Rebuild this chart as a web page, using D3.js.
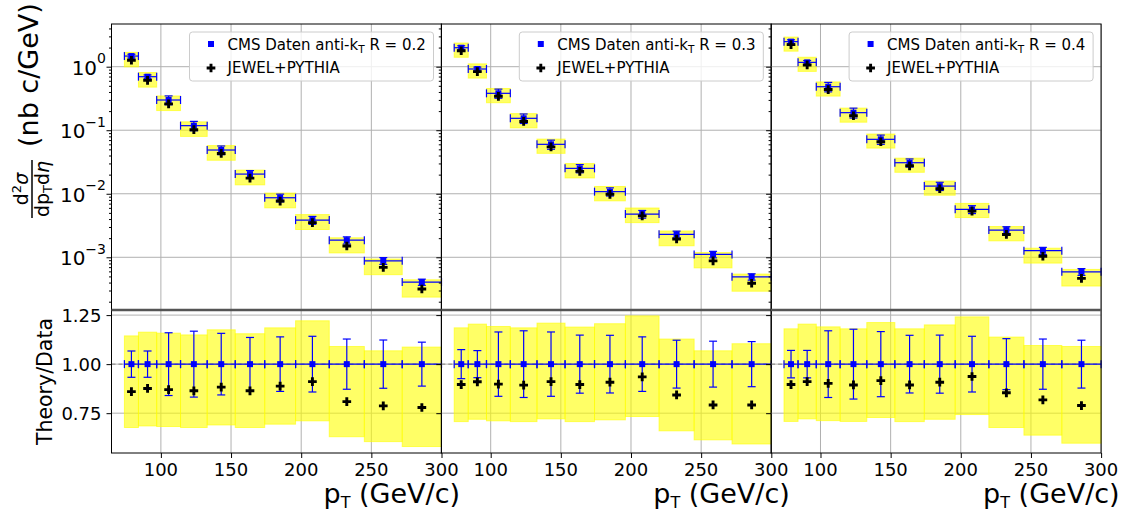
<!DOCTYPE html>
<html>
<head>
<meta charset="utf-8">
<script src="https://cdn.jsdelivr.net/npm/d3@7"></script>
<style>
  body { margin: 0; background: #fff; }
  svg { display: block; font-family: 'DejaVu Sans', sans-serif; }
  text { white-space: pre; }
</style>
</head>
<body>
<div id="chart"></div>
<script>
// pT bins (GeV/c)
const binEdges = [74, 84, 97, 114, 133, 153, 174, 196, 220, 245, 272, 300]
const radii = ['0.2', '0.3', '0.4']

// CMS cross sections (nb c/GeV)
const cmsR02 = [1.47, 0.696, 0.299, 0.118, 0.0488, 0.0204, 0.00865, 0.00385, 0.00186, 0.00088, 0.000407]
const cmsR03 = [1.99, 0.92, 0.381, 0.154, 0.060, 0.0251, 0.0108, 0.00479, 0.0023, 0.00111, 0.000493]
const cmsR04 = [2.48, 1.17, 0.484, 0.189, 0.0719, 0.0308, 0.0132, 0.00568, 0.00268, 0.00127, 0.000591]

// relative uncertainty of the data points
const cmsErrR02 = [0.067, 0.067, 0.16, 0.168, 0.157, 0.136, 0.139, 0.142, 0.128, 0.123, 0.112]
const cmsErrR03 = [0.074, 0.069, 0.164, 0.170, 0.164, 0.148, 0.147, 0.139, 0.122, 0.117, 0.115]
const cmsErrR04 = [0.07, 0.07, 0.17, 0.178, 0.166, 0.147, 0.148, 0.142, 0.130, 0.128, 0.122]

// JEWEL+PYTHIA / data
const jewelRatioR02 = [0.860, 0.876, 0.870, 0.864, 0.883, 0.864, 0.888, 0.911, 0.809, 0.787, 0.779]
const jewelRatioR03 = [0.896, 0.910, 0.898, 0.893, 0.911, 0.896, 0.908, 0.935, 0.843, 0.792, 0.792]
const jewelRatioR04 = [0.896, 0.911, 0.902, 0.894, 0.916, 0.894, 0.908, 0.937, 0.854, 0.818, 0.789]

// yellow band (relative), upper and lower edge
const bandHiR02 = [1.144, 1.163, 1.158, 1.149, 1.175, 1.155, 1.185, 1.221, 1.090, 1.068, 1.087]
const bandHiR03 = [1.185, 1.204, 1.192, 1.185, 1.209, 1.189, 1.206, 1.246, 1.128, 1.068, 1.104]
const bandHiR04 = [1.180, 1.204, 1.190, 1.180, 1.212, 1.180, 1.200, 1.241, 1.138, 1.095, 1.090]
const bandLoR02 = [0.677, 0.685, 0.682, 0.677, 0.690, 0.677, 0.694, 0.711, 0.630, 0.605, 0.580]
const bandLoR03 = [0.707, 0.719, 0.711, 0.707, 0.721, 0.707, 0.716, 0.733, 0.660, 0.614, 0.593]
const bandLoR04 = [0.708, 0.721, 0.712, 0.708, 0.728, 0.707, 0.719, 0.743, 0.677, 0.638, 0.597]

const xTicks = [100, 150, 200, 250, 300]
const ratioTicks = [0.75, 1.0, 1.25]
const decades = [1e-3, 1e-2, 1e-1, 1]

const width = 1135
const height = 514
const panelLefts = [111.5, 441.3, 771.1]
const panelWidth = 330
const topBox = { top: 24, bottom: 310 }
const ratioBox = { top: 310, bottom: 453 }
const blue = '#0000ff'
const gridColor = '#b0b0b0'

const panels = radii.map((r, i) => ({
  r,
  cms: [cmsR02, cmsR03, cmsR04][i],
  err: [cmsErrR02, cmsErrR03, cmsErrR04][i],
  ratio: [jewelRatioR02, jewelRatioR03, jewelRatioR04][i],
  hi: [bandHiR02, bandHiR03, bandHiR04][i],
  lo: [bandLoR02, bandLoR03, bandLoR04][i]
}))

const svg = d3.select('#chart').append('svg')
  .attr('width', width)
  .attr('height', height)

const yTop = d3.scaleLog().domain([1.48e-4, 4.7]).range([topBox.bottom, topBox.top])
const yRatio = d3.scaleLinear().domain([0.547, 1.276]).range([ratioBox.bottom, ratioBox.top])
const minorTicks = yTop.ticks().filter(v => !decades.some(d => Math.abs(v / d - 1) < 1e-6))

const square = d3.symbol(d3.symbolSquare, 36)
const plus = d3.symbol(d3.symbolCross, 42)

function rowsFor (p, top) {
  return p.cms.map((v, k) => {
    const lo = binEdges[k]
    const hi = binEdges[k + 1]
    const scale = top ? v : 1
    return {
      x0: lo,
      x1: hi,
      xc: (lo + hi) / 2,
      y: scale,
      yErrLo: scale * (1 - p.err[k]),
      yErrHi: scale * (1 + p.err[k]),
      bandLo: scale * p.lo[k],
      bandHi: scale * p.hi[k],
      theory: scale * p.ratio[k]
    }
  })
}

function drawErrorBars (g, x, y, rows) {
  const cap = 4
  const e = g.append('g').attr('stroke', blue).attr('stroke-width', 1.2).attr('fill', 'none')
  rows.forEach(d => {
    const yy = y(d.y)
    e.append('line').attr('x1', x(d.x0)).attr('x2', x(d.x1)).attr('y1', yy).attr('y2', yy)
    e.append('line').attr('x1', x(d.x0)).attr('x2', x(d.x0)).attr('y1', yy - cap).attr('y2', yy + cap)
    e.append('line').attr('x1', x(d.x1)).attr('x2', x(d.x1)).attr('y1', yy - cap).attr('y2', yy + cap)
    const xc = x(d.xc)
    e.append('line').attr('x1', xc).attr('x2', xc).attr('y1', y(d.yErrLo)).attr('y2', y(d.yErrHi))
    e.append('line').attr('x1', xc - cap).attr('x2', xc + cap).attr('y1', y(d.yErrLo)).attr('y2', y(d.yErrLo))
    e.append('line').attr('x1', xc - cap).attr('x2', xc + cap).attr('y1', y(d.yErrHi)).attr('y2', y(d.yErrHi))
  })
}

function drawPoints (g, x, y, rows) {
  g.append('g').selectAll('path')
    .data(rows)
    .enter()
    .append('path')
    .attr('d', square)
    .attr('transform', d => `translate(${x(d.xc)},${y(d.y)})`)
    .attr('fill', blue)
  g.append('g').selectAll('path')
    .data(rows)
    .enter()
    .append('path')
    .attr('d', plus)
    .attr('transform', d => `translate(${x(d.xc)},${y(d.theory)})`)
    .attr('fill', '#000')
}

function drawBands (g, x, y, rows) {
  g.append('g').selectAll('rect')
    .data(rows)
    .enter()
    .append('rect')
    .attr('x', d => x(d.x0))
    .attr('width', d => x(d.x1) - x(d.x0))
    .attr('y', d => y(d.bandHi))
    .attr('height', d => y(d.bandLo) - y(d.bandHi))
    .attr('fill', '#ffff00')
    .attr('fill-opacity', 0.6)
    .attr('stroke', '#ffff00')
    .attr('stroke-opacity', 0.6)
}

panels.forEach((p, i) => {
  const left = panelLefts[i]
  const right = left + panelWidth
  const x = d3.scaleLinear().domain([64.8, 300]).range([left, right])
  const g = svg.append('g')

  // grid
  const grid = g.append('g').attr('stroke', gridColor).attr('stroke-width', 1)
  xTicks.forEach(t => {
    grid.append('line').attr('x1', x(t)).attr('x2', x(t)).attr('y1', topBox.top).attr('y2', ratioBox.bottom)
  })
  decades.forEach(t => {
    grid.append('line').attr('x1', left).attr('x2', right).attr('y1', yTop(t)).attr('y2', yTop(t))
  })
  ratioTicks.forEach(t => {
    grid.append('line').attr('x1', left).attr('x2', right).attr('y1', yRatio(t)).attr('y2', yRatio(t))
  })

  const topRows = rowsFor(p, true)
  const ratioRows = rowsFor(p, false)

  drawBands(g, x, yTop, topRows)
  drawBands(g, x, yRatio, ratioRows)

  g.append('line')
    .attr('x1', left).attr('x2', right)
    .attr('y1', yRatio(1)).attr('y2', yRatio(1))
    .attr('stroke', '#808080')
    .attr('stroke-dasharray', '4,3')

  drawErrorBars(g, x, yTop, topRows)
  drawErrorBars(g, x, yRatio, ratioRows)
  drawPoints(g, x, yTop, topRows)
  drawPoints(g, x, yRatio, ratioRows)

  // ticks
  const noDomain = a => a.select('.domain').remove()
  g.append('g').attr('transform', `translate(${left},0)`)
    .call(d3.axisLeft(yTop).tickValues(decades).tickSize(5).tickFormat(''))
    .call(noDomain)
  g.append('g').attr('transform', `translate(${left},0)`)
    .call(d3.axisLeft(yTop).tickValues(minorTicks).tickSize(2.5).tickFormat(''))
    .call(noDomain)
  g.append('g').attr('transform', `translate(${left},0)`)
    .call(d3.axisLeft(yRatio).tickValues(ratioTicks).tickSize(5).tickFormat(''))
    .call(noDomain)
  g.append('g').attr('transform', `translate(0,${ratioBox.bottom})`)
    .call(d3.axisBottom(x).tickValues(xTicks).tickSize(5).tickFormat(''))
    .call(noDomain)

  // spines
  g.append('rect')
    .attr('x', left).attr('y', topBox.top)
    .attr('width', panelWidth).attr('height', ratioBox.bottom - topBox.top)
    .attr('fill', 'none').attr('stroke', '#000').attr('stroke-width', 1)
  g.append('line')
    .attr('x1', left).attr('x2', right)
    .attr('y1', topBox.bottom).attr('y2', topBox.bottom)
    .attr('stroke', '#555555').attr('stroke-width', 2.5)

  // x tick labels
  xTicks.forEach(t => {
    g.append('text')
      .attr('x', x(t)).attr('y', 476)
      .attr('text-anchor', 'middle')
      .attr('font-size', 18)
      .text(t)
  })

  // x label
  const xl = g.append('text')
    .attr('x', right - 118).attr('y', 503)
    .attr('font-size', 27)
  xl.append('tspan').text('p')
  xl.append('tspan').attr('font-size', 16).attr('dy', 5).text('T')
  xl.append('tspan').attr('dy', -5).text(' (GeV/c)')

  // y tick labels only on the first panel
  if (i === 0) {
    decades.forEach(t => {
      const exp = String(Math.round(Math.log10(t))).replace('-', '\u2212')
      const lab = g.append('text')
        .attr('x', left - 5.5).attr('y', yTop(t) + 8)
        .attr('text-anchor', 'end')
        .attr('font-size', 20)
      lab.append('tspan').text('10')
      lab.append('tspan').attr('font-size', 14).attr('dy', -11.5).text(exp)
    })
    ratioTicks.forEach(t => {
      g.append('text')
        .attr('x', left - 10).attr('y', yRatio(t) + 6.5)
        .attr('text-anchor', 'end')
        .attr('font-size', 18)
        .text(d3.format('.2f')(t))
    })
  }

  // legend
  const lg = g.append('g').attr('transform', `translate(${right - 8 - 244},32)`)
  lg.append('rect')
    .attr('width', 244).attr('height', 49).attr('rx', 3)
    .attr('fill', '#fff').attr('fill-opacity', 0.8)
    .attr('stroke', '#cccccc')
  lg.append('path').attr('d', square).attr('transform', 'translate(21.5,12)').attr('fill', blue)
  lg.append('path').attr('d', plus).attr('transform', 'translate(21.5,36)').attr('fill', '#000')
  const t1 = lg.append('text').attr('x', 38).attr('y', 18).attr('font-size', 15)
  t1.append('tspan').text('CMS Daten anti-k')
  t1.append('tspan').attr('font-size', 10.5).attr('dy', 3).text('T')
  t1.append('tspan').attr('dy', -3).text(` R = ${p.r}`)
  lg.append('text').attr('x', 38).attr('y', 41).attr('font-size', 15).text('JEWEL+PYTHIA')
})

// y label of the spectrum panel
const yl = svg.append('g').attr('transform', 'translate(32,189) rotate(-90)')
yl.append('line').attr('x1', -29).attr('x2', 29).attr('y1', 0).attr('y2', 0)
  .attr('stroke', '#000').attr('stroke-width', 1.5)
const num = yl.append('text').attr('x', 0).attr('y', -4).attr('text-anchor', 'middle').attr('font-size', 19)
num.append('tspan').text('d')
num.append('tspan').attr('font-size', 13).attr('dy', -7).text('2')
num.append('tspan').attr('dy', 7).attr('font-style', 'italic').text('σ')
const den = yl.append('text').attr('x', 0).attr('y', 16.5).attr('text-anchor', 'middle').attr('font-size', 19)
den.append('tspan').text('dp')
den.append('tspan').attr('font-size', 13).attr('dy', 3).text('T')
den.append('tspan').attr('dy', -3).text('d')
den.append('tspan').attr('font-style', 'italic').text('η')
yl.append('text').attr('x', 42).attr('y', 6.3).attr('font-size', 27).text('(nb c/GeV)')

// y label of the ratio panel
svg.append('text')
  .attr('transform', `translate(52,${(ratioBox.top + ratioBox.bottom) / 2}) rotate(-90)`)
  .attr('text-anchor', 'middle')
  .attr('font-size', 20.5)
  .text('Theory/Data')
</script>
</body>
</html>
